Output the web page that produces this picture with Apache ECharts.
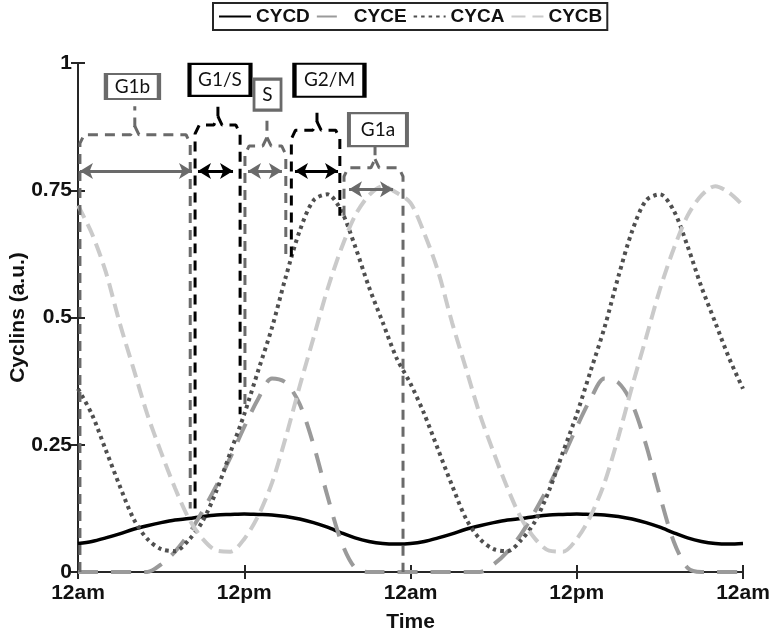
<!DOCTYPE html>
<html>
<head>
<meta charset="utf-8">
<script src="https://cdn.jsdelivr.net/npm/echarts@6/dist/echarts.min.js"></script>
<style>
  html, body { margin: 0; padding: 0; background: #fff; }
  #chart { width: 773px; height: 633px; }
</style>
</head>
<body>
<div id="chart"></div>
<script>
// hours since 12am, two days
var hours = [0, 1, 2, 3, 4, 5, 6, 7, 8, 9, 10, 11, 12, 13, 14, 15, 16, 17, 18, 19, 20, 21, 22, 23,
  24, 25, 26, 27, 28, 29, 30, 31, 32, 33, 34, 35, 36, 37, 38, 39, 40, 41, 42, 43, 44, 45, 46, 47, 48];
var tickLabels = ["12am", "12pm", "12am", "12pm", "12am"];

var cycD = [0.056, 0.060, 0.067, 0.075, 0.084, 0.091, 0.097, 0.102, 0.105, 0.109, 0.112, 0.113,
  0.114, 0.113, 0.112, 0.109, 0.104, 0.097, 0.088, 0.077, 0.067, 0.060, 0.056, 0.055,
  0.056, 0.060, 0.067, 0.075, 0.084, 0.091, 0.097, 0.102, 0.105, 0.109, 0.112, 0.113,
  0.114, 0.113, 0.112, 0.109, 0.104, 0.097, 0.088, 0.077, 0.067, 0.060, 0.056, 0.055, 0.056];
var cycE = [0, 0, 0, 0, 0, 0, 0.015, 0.04, 0.075, 0.12, 0.17, 0.225,
  0.285, 0.34, 0.38, 0.372, 0.33, 0.25, 0.15, 0.06, 0.008, 0, 0, 0,
  0, 0, 0, 0, 0, 0, 0.015, 0.04, 0.075, 0.12, 0.17, 0.225,
  0.285, 0.34, 0.38, 0.372, 0.33, 0.25, 0.15, 0.06, 0.008, 0, 0, 0, 0];
var cycA = [0.36, 0.31, 0.24, 0.17, 0.105, 0.065, 0.045, 0.041, 0.063, 0.10, 0.16, 0.235,
  0.31, 0.395, 0.48, 0.58, 0.67, 0.73, 0.742, 0.71, 0.64, 0.56, 0.49, 0.42,
  0.37, 0.31, 0.24, 0.17, 0.105, 0.065, 0.045, 0.041, 0.063, 0.10, 0.16, 0.235,
  0.31, 0.395, 0.48, 0.58, 0.67, 0.73, 0.742, 0.71, 0.64, 0.56, 0.49, 0.42, 0.36];
var cycB = [0.72, 0.665, 0.59, 0.49, 0.40, 0.31, 0.235, 0.165, 0.105, 0.065, 0.042, 0.04,
  0.065, 0.11, 0.175, 0.265, 0.365, 0.46, 0.555, 0.635, 0.70, 0.74, 0.758, 0.745,
  0.725, 0.665, 0.59, 0.49, 0.40, 0.31, 0.235, 0.165, 0.105, 0.065, 0.042, 0.04,
  0.065, 0.11, 0.175, 0.265, 0.365, 0.46, 0.555, 0.635, 0.70, 0.74, 0.758, 0.745, 0.72];

// cell cycle phase annotations (hours / cyclin units)
var phaseNames = ["G1b", "G1/S", "S", "G2/M", "G1a"];
var phaseStart = [0.14, 8.45, 12.05, 15.4, 19.2];
var phaseEnd = [8.1, 11.7, 15.0, 18.9, 23.46];
var phaseMid = [4.1, 10.1, 13.64, 17.25, 21.44];
var braceTop = [0.859, 0.878, 0.837, 0.868, 0.794];
var braceTip = [0.915, 0.915, 0.898, 0.912, 0.835];
var lowStart = [0, 0.125, 0.33, 0.62, 0.70];
var lowEnd = [0.125, 0.31, 0.62, 0.70, 0];
var arrowFrom = [0.14, 8.66, 12.27, 15.66, 19.56];
var arrowTo = [8.23, 11.19, 14.72, 18.77, 22.74];
var arrowY = [0.788, 0.788, 0.788, 0.788, 0.752];
var boxX = [3.93, 10.25, 13.68, 18.15, 21.65];
var boxY = [0.954, 0.967, 0.938, 0.966, 0.869];
var boxW = [53, 61, 27, 70, 58];
var boxH = [25, 32, 31, 33, 33];
var phaseDark = [false, true, false, true, false];

var GRAY = "#6a6a6a";
var FONT = "Liberation Sans, Arial, sans-serif";

function pairs(ys) {
  return hours.map(function (h, i) { return [h, ys[i]]; });
}

var series = [
  { name: "CYCD", type: "line", data: pairs(cycD), smooth: 0.3, symbol: "none",
    lineStyle: { color: "#000", width: 3.5 }, itemStyle: { color: "#000" } },
  { name: "CYCE", type: "line", data: pairs(cycE), smooth: 0.3, symbol: "none",
    lineStyle: { color: "#9a9a9a", width: 4, type: [20, 13] }, itemStyle: { color: "#9a9a9a" } },
  { name: "CYCA", type: "line", data: pairs(cycA), smooth: 0.3, symbol: "none",
    lineStyle: { color: "#4f4f4f", width: 4, type: [3.5, 4] }, itemStyle: { color: "#4f4f4f" } },
  { name: "CYCB", type: "line", data: pairs(cycB), smooth: 0.3, symbol: "none",
    lineStyle: { color: "#cacaca", width: 4, type: [14, 7] }, itemStyle: { color: "#cacaca" } }
];

var labelData = [];
for (var i = 0; i < phaseNames.length; i++) {
  var c = phaseDark[i] ? "#000" : GRAY;
  var x0 = phaseStart[i], x1 = phaseEnd[i], xm = phaseMid[i];
  var yt = braceTop[i], dx = 0.3, dy = 0.017;
  var left = [[x0, lowStart[i]], [x0, yt - dy], [x0 + dx, yt], [xm - dx, yt], [xm, yt + dy], [xm, braceTip[i]]];
  var right = [[xm, yt + dy], [xm + dx, yt], [x1 - dx, yt], [x1, yt - dy], [x1, lowEnd[i]]];
  [left, right].forEach(function (pts, k) {
    var s = {
      type: "line", data: pts, symbol: "none", z: 5,
      lineStyle: { color: c, width: 3, type: [10, 7] }
    };
    if (k === 0) {
      s.markLine = {
        silent: true, symbol: ["arrow", "arrow"], symbolSize: [12, 13],
        label: { show: false },
        lineStyle: { color: c, width: 3, type: "solid" },
        data: [[{ coord: [arrowFrom[i], arrowY[i]] }, { coord: [arrowTo[i], arrowY[i]] }]]
      };
    }
    series.push(s);
  });
  labelData.push({
    name: phaseNames[i],
    value: [boxX[i], boxY[i]],
    symbolSize: [boxW[i], boxH[i]],
    itemStyle: { color: "#fff", borderColor: c, borderWidth: 3, opacity: 1 }
  });
}

series.push({
  type: "scatter", data: labelData, symbol: "rect", z: 10, silent: true,
  label: {
    show: true, position: "inside", formatter: "{b}",
    color: "#111", fontSize: 19, fontFamily: "Lato, Noto Sans, sans-serif",
    textBorderWidth: 0, textShadowBlur: 0
  }
});

var axisCommon = {
  axisLine: { show: true, lineStyle: { color: "#262626", width: 2 } },
  axisTick: { show: true, inside: true, length: 7, lineStyle: { color: "#262626", width: 2 } },
  splitLine: { show: false }
};

var option = {
  animation: false,
  backgroundColor: "#fff",
  grid: { left: 78, right: 30, top: 63, bottom: 61, containLabel: false, outerBoundsMode: "none" },
  legend: {
    data: ["CYCD", "CYCE", "CYCA", "CYCB"],
    left: 213, top: 3,
    padding: [4, 5],
    itemWidth: 32, itemHeight: 14, itemGap: 6,
    itemStyle: { opacity: 0 },
    borderColor: "#262626", borderWidth: 2,
    textStyle: { fontSize: 19, fontWeight: "bold", color: "#111", fontFamily: FONT }
  },
  xAxis: [
    Object.assign({
      type: "value", min: 0, max: 48, interval: 12,
      name: "Time", nameLocation: "middle", nameGap: 40,
      nameTextStyle: { fontSize: 21, fontWeight: "bold", color: "#111", fontFamily: FONT },
      axisLabel: {
        margin: 11, fontSize: 21, fontWeight: "bold", color: "#111", fontFamily: FONT,
        formatter: function (v) { return tickLabels[v / 12]; }
      }
    }, axisCommon),
    Object.assign({
      type: "value", min: 0, max: 48, interval: 12, position: "top",
      axisLabel: { show: false }
    }, axisCommon)
  ],
  yAxis: [
    Object.assign({
      type: "value", min: 0, max: 1, interval: 0.25,
      name: "Cyclins (a.u.)", nameLocation: "middle", nameGap: 49, nameMoveOverlap: false,
      nameTextStyle: { fontSize: 21, fontWeight: "bold", color: "#111", fontFamily: FONT },
      axisLabel: {
        margin: 6, fontSize: 21, fontWeight: "bold", color: "#111", fontFamily: FONT,
        formatter: function (v) { return String(v); }
      }
    }, axisCommon),
    Object.assign({
      type: "value", min: 0, max: 1, interval: 0.25, position: "right",
      axisLabel: { show: false }
    }, axisCommon)
  ],
  series: series
};

echarts.init(document.getElementById("chart")).setOption(option);
</script>
</body>
</html>
